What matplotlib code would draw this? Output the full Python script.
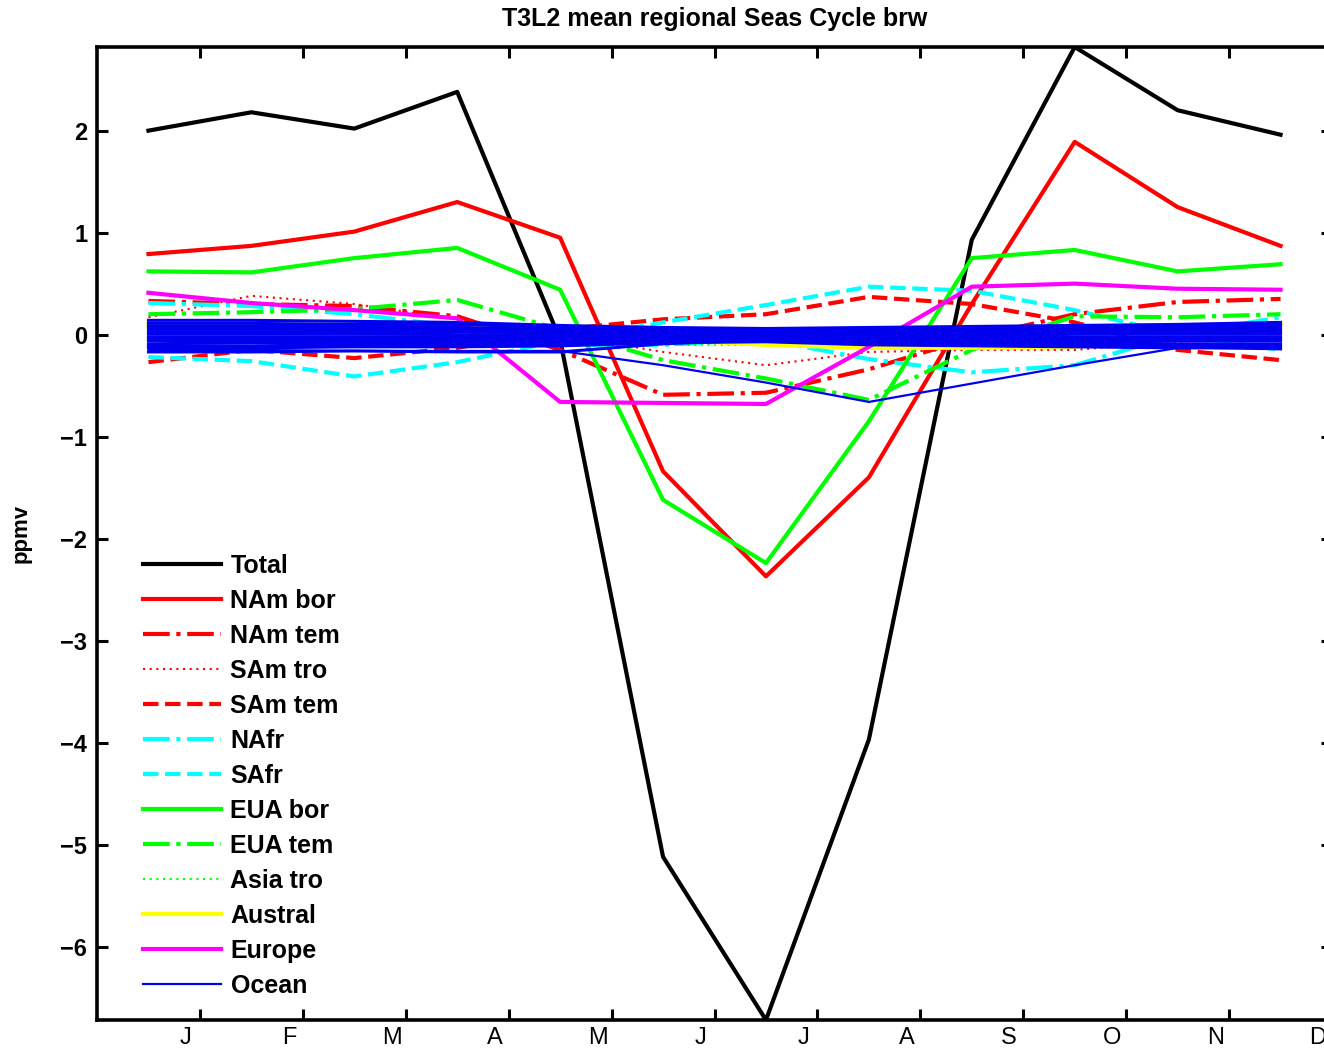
import matplotlib
matplotlib.use('Agg')
import matplotlib.pyplot as plt
from matplotlib.transforms import ScaledTranslation

# month positions (mid-month) and tick labels
months = [0.5, 1.5, 2.5, 3.5, 4.5, 5.5, 6.5, 7.5, 8.5, 9.5, 10.5, 11.5]
month_ticks = [1, 2, 3, 4, 5, 6, 7, 8, 9, 10, 11, 12]
month_labels = ['J', 'F', 'M', 'A', 'M', 'J', 'J', 'A', 'S', 'O', 'N', 'D']
y_ticks = [-6, -5, -4, -3, -2, -1, 0, 1, 2]

# regional seasonal cycles (ppmv)
total = [2.00, 2.18, 2.02, 2.38, -0.05, -5.12, -6.72, -3.97, 0.93, 2.82, 2.20, 1.96]
nam_bor = [0.79, 0.87, 1.01, 1.30, 0.95, -1.34, -2.37, -1.40, 0.30, 1.89, 1.25, 0.87]
nam_tem = [0.33, 0.30, 0.28, 0.18, -0.15, -0.59, -0.57, -0.34, -0.03, 0.20, 0.32, 0.35]
sam_tro = [0.17, 0.38, 0.30, 0.15, 0.00, -0.17, -0.30, -0.17, -0.15, -0.15, -0.07, -0.05]
sam_tem = [-0.27, -0.15, -0.23, -0.13, 0.05, 0.15, 0.20, 0.37, 0.30, 0.12, -0.15, -0.25]
nafr = [0.31, 0.28, 0.20, 0.08, -0.10, -0.10, -0.05, -0.24, -0.37, -0.30, 0.00, 0.17]
safr = [-0.22, -0.26, -0.41, -0.27, -0.06, 0.12, 0.29, 0.47, 0.43, 0.24, 0.00, -0.15]
eua_bor = [0.62, 0.61, 0.75, 0.85, 0.44, -1.62, -2.24, -0.85, 0.75, 0.83, 0.62, 0.69]
eua_tem = [0.20, 0.22, 0.25, 0.34, 0.05, -0.25, -0.43, -0.64, -0.15, 0.18, 0.17, 0.20]
asia_tro = [0.10, 0.10, 0.12, 0.10, 0.00, -0.10, -0.10, -0.05, 0.00, 0.05, 0.08, 0.10]
austral = [0.10, 0.10, 0.10, 0.08, 0.00, -0.05, -0.10, -0.13, -0.13, -0.12, 0.00, 0.10]
europe = [0.41, 0.31, 0.24, 0.16, -0.66, -0.67, -0.68, -0.12, 0.47, 0.50, 0.45, 0.44]

# ocean regions, all drawn in the same colour
ocean_lines = [
    [-0.15, -0.15, -0.16, -0.16, -0.16, -0.30, -0.47, -0.66, -0.48, -0.30, -0.13, -0.10],
    [0.14, 0.14, 0.13, 0.12, 0.09, 0.07, 0.06, 0.07, 0.08, 0.09, 0.10, 0.12],
    [0.11, 0.11, 0.10, 0.10, 0.07, 0.06, 0.05, 0.06, 0.07, 0.08, 0.09, 0.10],
    [0.08, 0.08, 0.08, 0.07, 0.05, 0.04, 0.04, 0.05, 0.05, 0.06, 0.07, 0.08],
    [0.06, 0.06, 0.05, 0.05, 0.04, 0.03, 0.03, 0.03, 0.04, 0.04, 0.05, 0.05],
    [0.03, 0.03, 0.03, 0.03, 0.02, 0.02, 0.01, 0.02, 0.02, 0.03, 0.03, 0.03],
    [0.01, 0.01, 0.01, 0.00, 0.00, 0.00, 0.00, 0.00, 0.01, 0.01, 0.01, 0.01],
    [-0.02, -0.02, -0.02, -0.02, -0.01, -0.01, -0.01, -0.01, -0.01, -0.02, -0.02, -0.02],
    [-0.04, -0.04, -0.04, -0.04, -0.03, -0.02, -0.02, -0.02, -0.03, -0.04, -0.04, -0.04],
    [-0.06, -0.06, -0.06, -0.06, -0.05, -0.04, -0.03, -0.04, -0.05, -0.06, -0.06, -0.06],
    [-0.09, -0.08, -0.08, -0.08, -0.07, -0.05, -0.05, -0.06, -0.07, -0.08, -0.09, -0.09],
    [-0.11, -0.11, -0.10, -0.10, -0.09, -0.07, -0.06, -0.08, -0.09, -0.10, -0.11, -0.11],
    [-0.13, -0.13, -0.12, -0.12, -0.11, -0.08, -0.07, -0.10, -0.11, -0.12, -0.13, -0.13],
    [-0.17, -0.17, -0.16, -0.17, -0.17, -0.09, -0.05, -0.04, -0.05, -0.07, -0.12, -0.14],
]

plt.rcParams['font.family'] = ['Liberation Sans', 'DejaVu Sans']

fig = plt.figure(figsize=(13.24, 10.49), dpi=100)
ax = fig.add_axes([97/1324, 29/1049, 1235/1324, 973/1049])

thick = 3.0
cyan = '#00ffff'
ax.plot(months, total, color='k', lw=thick, label='Total')
ax.plot(months, nam_bor, color='r', lw=thick, label='NAm bor')
ax.plot(months, nam_tem, color='r', lw=thick, ls='-.', label='NAm tem')
ax.plot(months, sam_tro, color='r', lw=1.5, ls=(0, (1, 2.2)), label='SAm tro')
ax.plot(months, sam_tem, color='r', lw=thick, ls='--', label='SAm tem')
ax.plot(months, nafr, color=cyan, lw=thick, ls='-.', label='NAfr')
ax.plot(months, safr, color=cyan, lw=thick, ls='--', label='SAfr')
ax.plot(months, eua_bor, color='lime', lw=thick, label='EUA bor')
ax.plot(months, eua_tem, color='lime', lw=thick, ls='-.', label='EUA tem')
ax.plot(months, asia_tro, color='lime', lw=1.5, ls=(0, (1, 2.2)), label='Asia tro')
ax.plot(months, austral, color='yellow', lw=thick, label='Austral')
ax.plot(months, europe, color='magenta', lw=thick, label='Europe')
for i, vals in enumerate(ocean_lines):
    ax.plot(months, vals, color='#0000ee', lw=1.6 if i == 0 else 2.2,
            label='Ocean' if i == 0 else None)

ax.set_xlim(0, 12)
ax.set_ylim(min(total), max(total))
ax.set_xticks(month_ticks)
ax.set_xticklabels(month_labels, fontsize=17)
ax.set_yticks(y_ticks)
ax.set_yticklabels([str(v).replace('-', '\u2212') for v in y_ticks],
                   fontsize=17, fontweight='bold')
ax.tick_params(direction='in', length=8, width=2.2, top=True, right=True)
ax.tick_params(axis='x', pad=5)
ax.tick_params(axis='y', pad=7)
for sp in ax.spines.values():
    sp.set_linewidth(2.6)

# shift x labels slightly left like the original
off = ScaledTranslation(-14/100, 0, fig.dpi_scale_trans)
for lab in ax.get_xticklabels():
    lab.set_transform(lab.get_transform() + off)

ax.set_ylabel('ppmv', fontsize=16, fontweight='bold', labelpad=21)
ax.set_title('T3L2 mean regional Seas Cycle brw', fontsize=18, fontweight='bold', pad=15)

ax.legend(loc='upper left', bbox_to_anchor=(133/1324, 1 - 544/1049),
          bbox_transform=fig.transFigure, frameon=False,
          prop={'weight': 'bold', 'size': 18}, handlelength=3.1,
          handletextpad=0.4, labelspacing=0.44, borderaxespad=0)

fig.savefig('out.png', dpi=100)
